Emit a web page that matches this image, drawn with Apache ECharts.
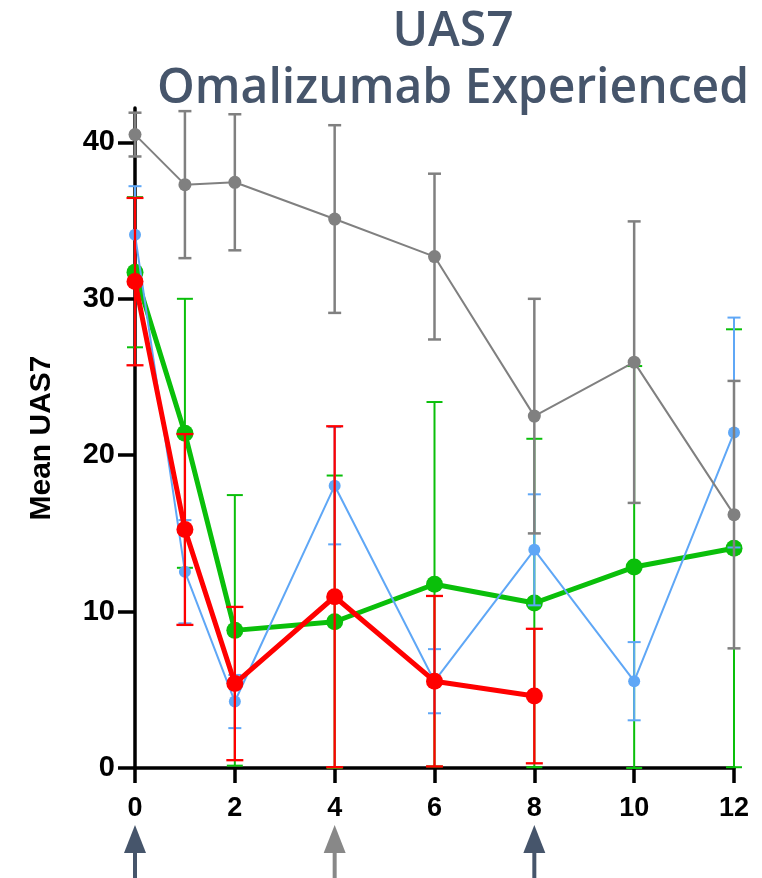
<!DOCTYPE html>
<html>
<head>
<meta charset="utf-8">
<title>UAS7 – Omalizumab Experienced</title>
<script src="https://cdn.jsdelivr.net/npm/echarts@6/dist/echarts.min.js"></script>
<style>
  html, body { margin: 0; padding: 0; background: #ffffff; }
  #chart { width: 762px; height: 878px; }
</style>
</head>
<body>
<div id="chart"></div>
<script>
// Study weeks for each visit
const weeks = [0, 1, 2, 4, 6, 8, 10, 12];
const weeksShort = [0, 1, 2, 4, 6, 8];

// Axis ticks
const yTicks = [0, 10, 20, 30, 40];
const xTicks = [0, 2, 4, 6, 8, 10, 12];

// Mean UAS7 and error (±) per group
const grayMean = [40.5, 37.3, 37.45, 35.1, 32.7, 22.5, 25.95, 16.2];
const grayErr  = [1.4, 4.7, 4.35, 6.0, 5.3, 7.5, 9.0, 8.55];

const blueMean = [34.1, 12.55, 4.25, 18.05, 5.55, 13.95, 5.55, 21.45];
const blueErr  = [3.1, 3.3, 1.7, 3.75, 2.05, 3.55, 2.5, 7.35];

const greenMean = [31.7, 21.4, 8.8, 9.35, 11.75, 10.55, 12.85, 14.05];
const greenErr  = [4.8, 8.6, 8.65, 9.35, 11.65, 10.5, 12.85, 14.0];

const redMean = [31.1, 15.25, 5.4, 10.95, 5.55, 4.6];
const redErr  = [5.35, 6.1, 4.9, 10.9, 5.45, 4.3];

// Dosing markers under the time axis
const arrowWeeks  = [0, 4, 8];
const arrowColors = ['#46556b', '#888888', '#46556b'];

const chart = echarts.init(document.getElementById('chart'), null, { renderer: 'canvas' });

function points(xs, ys) {
  return xs.map((x, i) => [x, ys[i]]);
}
function ranges(xs, ys, es) {
  return xs.map((x, i) => [x, Math.max(0, ys[i] - es[i]), ys[i] + es[i]]);
}

function errorBarSeries(xs, ys, es, color, width, cap, z) {
  return {
    type: 'custom',
    z: z,
    silent: true,
    data: ranges(xs, ys, es),
    encode: { x: 0, y: [1, 2] },
    renderItem: function (params, api) {
      const x = api.value(0);
      const lo = api.coord([x, api.value(1)]);
      const hi = api.coord([x, api.value(2)]);
      const style = { stroke: color, lineWidth: width };
      return {
        type: 'group',
        children: [
          { type: 'line', shape: { x1: lo[0], y1: lo[1], x2: hi[0], y2: hi[1] }, style: style },
          { type: 'line', shape: { x1: hi[0] - cap / 2, y1: hi[1], x2: hi[0] + cap / 2, y2: hi[1] }, style: style },
          { type: 'line', shape: { x1: lo[0] - cap / 2, y1: lo[1], x2: lo[0] + cap / 2, y2: lo[1] }, style: style }
        ]
      };
    }
  };
}

function lineSeries(xs, ys, color, width, size, z) {
  return {
    type: 'line',
    z: z,
    data: points(xs, ys),
    symbol: 'circle',
    symbolSize: size,
    showSymbol: true,
    silent: true,
    animation: false,
    lineStyle: { color: color, width: width },
    itemStyle: { color: color, borderWidth: 0 }
  };
}

const axisFont = { fontFamily: 'Liberation Sans', fontWeight: 'bold', color: '#000000' };

chart.setOption({
  animation: false,
  backgroundColor: '#ffffff',
  title: {
    text: 'UAS7\nOmalizumab Experienced',
    left: 448,
    top: -1,
    textAlign: 'center',
    textStyle: {
      fontFamily: 'Open Sans',
      fontWeight: 600,
      fontSize: 48,
      lineHeight: 57,
      color: '#46556b'
    }
  },
  grid: { left: 135, right: 28, top: 108, bottom: 110 },
  xAxis: {
    type: 'value',
    min: 0,
    max: 12,
    interval: 2,
    axisLine: { show: true, onZero: false, lineStyle: { color: '#000000', width: 3.5 } },
    axisTick: { show: true, length: 15, lineStyle: { color: '#000000', width: 3.5 } },
    axisLabel: Object.assign({ fontSize: 27, margin: 27, customValues: xTicks }, axisFont),
    splitLine: { show: false }
  },
  yAxis: {
    type: 'value',
    min: 0,
    max: 42.2,
    name: 'Mean UAS7',
    nameLocation: 'middle',
    nameGap: 78,
    nameRotate: 90,
    nameTextStyle: Object.assign({ fontSize: 30 }, axisFont),
    axisLine: { show: true, onZero: false, lineStyle: { color: '#000000', width: 3.5 } },
    axisTick: { show: true, length: 17, customValues: yTicks, lineStyle: { color: '#000000', width: 3.5 } },
    axisLabel: Object.assign({ fontSize: 29, margin: 20, customValues: yTicks }, axisFont),
    splitLine: { show: false }
  },
  series: [
    errorBarSeries(weeks, greenMean, greenErr, '#0abf0a', 2, 16, 3),
    lineSeries(weeks, greenMean, '#0abf0a', 5, 17, 3),
    errorBarSeries(weeks, blueMean, blueErr, '#5fa7f6', 2, 13, 4),
    lineSeries(weeks, blueMean, '#5fa7f6', 2, 12, 4),
    errorBarSeries(weeksShort, redMean, redErr, '#ff0000', 2.3, 17, 5),
    lineSeries(weeksShort, redMean, '#ff0000', 5, 17, 5),
    errorBarSeries(weeks, grayMean, grayErr, '#808080', 2.5, 13, 6),
    lineSeries(weeks, grayMean, '#808080', 2, 13, 6)
  ]
});

// Dosing arrows placed under their week on the x axis
const arrowGraphics = [];
arrowWeeks.forEach((w, i) => {
  const px = chart.convertToPixel({ xAxisIndex: 0 }, w);
  arrowGraphics.push({
    type: 'polygon',
    shape: { points: [[px, 825], [px - 11, 853], [px + 11, 853]] },
    style: { fill: arrowColors[i] },
    silent: true
  });
  arrowGraphics.push({
    type: 'rect',
    shape: { x: px - 2, y: 851, width: 4, height: 30 },
    style: { fill: arrowColors[i] },
    silent: true
  });
});
chart.setOption({ graphic: arrowGraphics });
</script>
</body>
</html>
